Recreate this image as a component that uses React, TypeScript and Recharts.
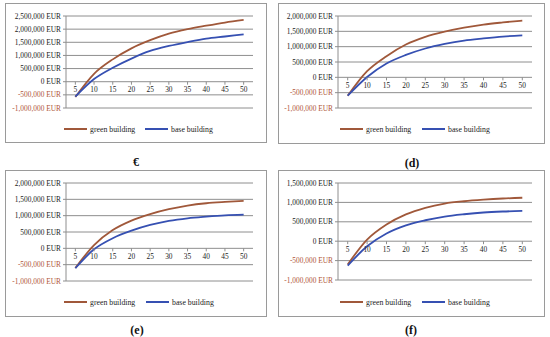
import React from 'react';
import { LineChart, Line, XAxis, YAxis, CartesianGrid } from 'recharts';

// ---- data ----
const years = [5, 10, 15, 20, 25, 30, 35, 40, 45, 50];
const seriesNames = ['green building', 'base building'];
const panelTitles = ['€', '(d)', '(e)', '(f)'];
const yMaxima = [2500000, 2000000, 2000000, 1500000];
const yMinimum = -1000000;
const yStep = 500000;

const greenA = [-580000, 300000, 850000, 1270000, 1580000, 1830000, 2000000, 2130000, 2250000, 2350000];
const baseA = [-570000, 100000, 530000, 880000, 1170000, 1360000, 1510000, 1640000, 1720000, 1800000];
const greenD = [-600000, 200000, 690000, 1070000, 1320000, 1490000, 1620000, 1720000, 1790000, 1850000];
const baseD = [-600000, 10000, 450000, 730000, 940000, 1090000, 1200000, 1270000, 1330000, 1370000];
const greenE = [-600000, 100000, 560000, 850000, 1050000, 1200000, 1310000, 1380000, 1420000, 1450000];
const baseE = [-610000, -30000, 310000, 540000, 715000, 840000, 920000, 970000, 1010000, 1030000];
const greenF = [-600000, 40000, 430000, 690000, 860000, 970000, 1030000, 1070000, 1100000, 1120000];
const baseF = [-630000, -130000, 200000, 410000, 540000, 635000, 695000, 740000, 765000, 780000];

const greenSeries = [greenA, greenD, greenE, greenF];
const baseSeries = [baseA, baseD, baseE, baseF];

// ---- styles ----
const FONT = '"Liberation Serif", "Times New Roman", Times, serif';
const GREEN = '#A0583A';
const BLUE = '#3650B2';
const GRID = '#8e8e8e';
const TXT = '#222222';
const NEG = '#B0563A';
const XAXIS_H = 12;
const TICK_FS = 7.4;

// layout of the four panels (page pixel positions)
const layouts = [
  { box: { x: 5, y: 3, w: 262, h: 140 }, plot: { l: 66, t: 16, r: 253, b: 108 }, legendY: 129, gx: 64, bx: 145, title: { x: 136, y: 162 } },
  { box: { x: 278, y: 3, w: 267, h: 141 }, plot: { l: 338, t: 16, r: 532, b: 108 }, legendY: 129, gx: 340, bx: 422, title: { x: 412, y: 163 } },
  { box: { x: 5, y: 170, w: 262, h: 147 }, plot: { l: 66, t: 183, r: 253, b: 281 }, legendY: 302, gx: 64, bx: 146, title: { x: 137, y: 330 } },
  { box: { x: 278, y: 170, w: 267, h: 147 }, plot: { l: 338, t: 183, r: 532, b: 280 }, legendY: 302, gx: 340, bx: 422, title: { x: 411, y: 330 } },
];

const fmt = (v: number) => `${v < 0 ? '-' : ''}${Math.abs(v).toLocaleString('en-US')} EUR`;

const makeTicks = (min: number, max: number) => {
  const t: number[] = [];
  for (let v = min; v <= max; v += yStep) t.push(v);
  return t;
};

const YTick = (props: any) => {
  const { x, y, payload } = props;
  const v = Number(payload.value);
  return (
    <text x={x} y={y} dy="0.355em" textAnchor="end" fontSize={TICK_FS} fontFamily={FONT} fill={v < 0 ? NEG : TXT}>
      {fmt(v)}
    </text>
  );
};

const XTick = (props: any) => {
  const { x, y, payload, shift } = props;
  const z = Number(y) - Number(shift);
  return (
    <g>
      <line x1={x} x2={x} y1={z} y2={z + 3} stroke={GRID} strokeWidth={1} />
      <text x={x} y={z + 5.5} dy="0.71em" textAnchor="middle" fontSize={TICK_FS} fontFamily={FONT} fill={TXT}>
        {payload.value}
      </text>
    </g>
  );
};

const Panel = ({ idx }: { idx: number }) => {
  const L = layouts[idx];
  const { box, plot } = L;
  const max = yMaxima[idx];
  const data = years.map((yr, i) => ({
    year: yr,
    green: greenSeries[idx][i],
    base: baseSeries[idx][i],
  }));
  const plotW = plot.r - plot.l;
  const plotH = plot.b - plot.t;
  const band = plotW / years.length;
  const shift = (plotH * (0 - yMinimum)) / (max - yMinimum);
  return (
    <>
      <div
        style={{
          position: 'absolute',
          left: box.x,
          top: box.y,
          width: box.w,
          height: box.h,
          border: '1px solid #9a9a9a',
          boxSizing: 'border-box',
        }}
      />
      <div style={{ position: 'absolute', left: box.x, top: box.y }}>
        <LineChart
          width={box.w}
          height={box.h}
          data={data}
          margin={{
            top: plot.t - box.y,
            left: 0,
            right: box.x + box.w - plot.r,
            bottom: box.y + box.h - plot.b - XAXIS_H,
          }}
        >
          <CartesianGrid vertical={false} stroke={GRID} strokeWidth={1} />
          <XAxis
            dataKey="year"
            type="category"
            height={XAXIS_H}
            tickSize={0}
            tickMargin={0}
            axisLine={false}
            tickLine={false}
            interval={0}
            padding={{ left: band / 2, right: band / 2 }}
            tick={<XTick shift={shift} />}
          />
          <YAxis
            type="number"
            domain={[yMinimum, max]}
            ticks={makeTicks(yMinimum, max)}
            width={plot.l - box.x}
            tickSize={3}
            tickMargin={2}
            interval={0}
            allowDataOverflow
            axisLine={{ stroke: GRID }}
            tickLine={{ stroke: GRID }}
            tick={<YTick />}
          />
          <Line dataKey="green" name={seriesNames[0]} type="monotone" stroke={GREEN} strokeWidth={1.8} dot={false} isAnimationActive={false} />
          <Line dataKey="base" name={seriesNames[1]} type="monotone" stroke={BLUE} strokeWidth={1.8} dot={false} isAnimationActive={false} />
        </LineChart>
      </div>
      {[
        { x: L.gx, c: GREEN, n: seriesNames[0] },
        { x: L.bx, c: BLUE, n: seriesNames[1] },
      ].map((it) => (
        <div
          key={it.n}
          style={{
            position: 'absolute',
            left: it.x,
            top: L.legendY - 6,
            height: 12,
            display: 'flex',
            alignItems: 'center',
            fontFamily: FONT,
            fontSize: 7.8,
            color: TXT,
            whiteSpace: 'nowrap',
          }}
        >
          <div style={{ width: 23, height: 0, borderTop: `2px solid ${it.c}`, marginRight: 3 }} />
          <span>{it.n}</span>
        </div>
      ))}
      <div
        style={{
          position: 'absolute',
          left: L.title.x - 30,
          width: 60,
          top: L.title.y - 7,
          height: 14,
          lineHeight: '14px',
          textAlign: 'center',
          fontFamily: FONT,
          fontWeight: 'bold',
          fontSize: 12,
          color: '#111',
        }}
      >
        {panelTitles[idx]}
      </div>
    </>
  );
};

export default function App() {
  return (
    <div
      style={{
        position: 'absolute',
        left: 0,
        top: 0,
        width: 550,
        height: 337,
        background: '#fff',
        overflow: 'hidden',
      }}
    >
      {[0, 1, 2, 3].map((i) => (
        <Panel key={i} idx={i} />
      ))}
    </div>
  );
}
